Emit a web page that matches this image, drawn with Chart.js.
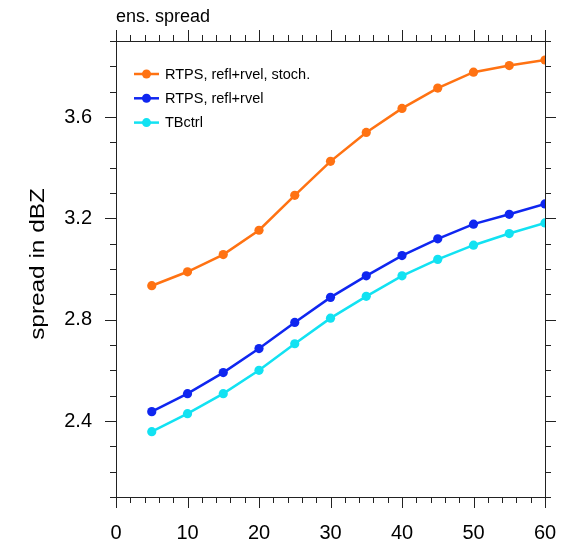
<!DOCTYPE html>
<html>
<head>
<meta charset="utf-8">
<script src="https://cdn.jsdelivr.net/npm/chart.js@4"></script>
<style>
  html, body { margin: 0; padding: 0; background: #fff; }
  #c { display: block; }
</style>
</head>
<body>
<canvas id="c" width="563" height="542"></canvas>
<script>
// lead time in minutes
const leadTimes = [5, 10, 15, 20, 25, 30, 35, 40, 45, 50, 55, 60]
const stochSpread = [2.934, 2.989, 3.057, 3.153, 3.291, 3.425, 3.539, 3.634, 3.714, 3.777, 3.803, 3.825]
const rtpsSpread  = [2.437, 2.508, 2.591, 2.686, 2.789, 2.888, 2.973, 3.053, 3.119, 3.177, 3.216, 3.257]
const ctrlSpread  = [2.358, 2.429, 2.508, 2.600, 2.705, 2.806, 2.892, 2.973, 3.038, 3.094, 3.140, 3.182]
const seriesNames = ['RTPS, refl+rvel, stoch.', 'RTPS, refl+rvel', 'TBctrl']
const xTickLabels = [0, 10, 20, 30, 40, 50, 60]
const yTickLabels = [2.4, 2.8, 3.2, 3.6]

const FONT = '"Liberation Sans", Arial, Helvetica, sans-serif'
const colors = ['#ff7212', '#0f26f0', '#12e2f2']

function toXY(ys){
  return leadTimes.map((x, i) => ({x: x, y: ys[i]}))
}

// NCL-like frame, outward major/minor ticks, titles and legend
const nclFrame = {
  id: 'nclFrame',
  afterDraw(chart){
    const {ctx, chartArea: {left, right, top, bottom}, scales: {x, y}} = chart
    ctx.save()
    ctx.strokeStyle = '#222'
    ctx.lineWidth = 1
    ctx.strokeRect(left + 0.5, top + 0.5, right - left, bottom - top)

    ctx.beginPath()
    for (let v = 0; v <= 60; v += 2) {
      const px = Math.round(x.getPixelForValue(v)) + 0.5
      const len = v % 10 === 0 ? 11 : 6
      ctx.moveTo(px, bottom); ctx.lineTo(px, bottom + len)
      ctx.moveTo(px, top); ctx.lineTo(px, top - len)
    }
    for (let k = 21; k <= 39; k++) {
      const v = k / 10
      const py = Math.round(y.getPixelForValue(v)) + 0.5
      const len = (k % 4 === 0) ? 11 : 6
      ctx.moveTo(left, py); ctx.lineTo(left - len, py)
      ctx.moveTo(right, py); ctx.lineTo(right + len, py)
    }
    ctx.stroke()

    // title
    ctx.fillStyle = '#000'
    ctx.font = '18px ' + FONT
    ctx.textAlign = 'left'
    ctx.textBaseline = 'alphabetic'
    ctx.fillText('ens. spread', 116, 22)

    // y title (NCL font is a bit wider than Helvetica)
    ctx.save()
    ctx.translate(38, 264)
    ctx.rotate(-Math.PI / 2)
    ctx.scale(1.16, 1)
    ctx.font = '21px ' + FONT
    ctx.textAlign = 'center'
    ctx.textBaseline = 'middle'
    ctx.fillText('spread in dBZ', 0, 0)
    ctx.restore()

    // legend inside plot
    ctx.font = '14.5px ' + FONT
    ctx.textAlign = 'left'
    ctx.textBaseline = 'middle'
    chart.data.datasets.forEach((ds, i) => {
      const ly = 74 + i * 24.3
      ctx.strokeStyle = ds.borderColor
      ctx.lineWidth = 2.5
      ctx.beginPath()
      ctx.moveTo(134, ly); ctx.lineTo(159, ly)
      ctx.stroke()
      ctx.fillStyle = ds.backgroundColor
      ctx.beginPath()
      ctx.arc(146.5, ly, 4.5, 0, Math.PI * 2)
      ctx.fill()
      ctx.fillStyle = '#000'
      ctx.fillText(ds.label, 165, ly + 0.5)
    })
    ctx.restore()
  }
}

const datasets = [stochSpread, rtpsSpread, ctrlSpread].map((d, i) => ({
  label: seriesNames[i],
  data: toXY(d),
  borderColor: colors[i],
  backgroundColor: colors[i],
  borderWidth: 2.5,
  pointRadius: 4.6,
  pointBorderWidth: 0,
  pointHoverRadius: 4.6,
  tension: 0
}))

new Chart(document.getElementById('c'), {
  type: 'line',
  data: {datasets: datasets},
  options: {
    responsive: false,
    animation: false,
    events: [],
    layout: {padding: {left: 0, right: 18, top: 41, bottom: 0}},
    plugins: {legend: {display: false}, tooltip: {enabled: false}},
    scales: {
      x: {
        type: 'linear', min: 0, max: 60,
        afterBuildTicks(s){ s.ticks = xTickLabels.map(v => ({value: v})) },
        afterFit(s){ s.height = 45; s.paddingLeft = 0; s.paddingRight = 0 },
        grid: {display: false, drawTicks: false},
        border: {display: false},
        ticks: {color: '#000', font: {family: FONT, size: 20}, padding: 24, maxRotation: 0}
      },
      y: {
        type: 'linear', min: 2.1, max: 3.9,
        afterBuildTicks(s){ s.ticks = yTickLabels.map(v => ({value: v})) },
        afterFit(s){ s.width = 116; s.paddingTop = 0; s.paddingBottom = 0 },
        grid: {display: false, drawTicks: false},
        border: {display: false},
        ticks: {color: '#000', font: {family: FONT, size: 20}, padding: 24,
          callback: v => v.toFixed(1)}
      }
    }
  },
  plugins: [nclFrame]
})
</script>
</body>
</html>
